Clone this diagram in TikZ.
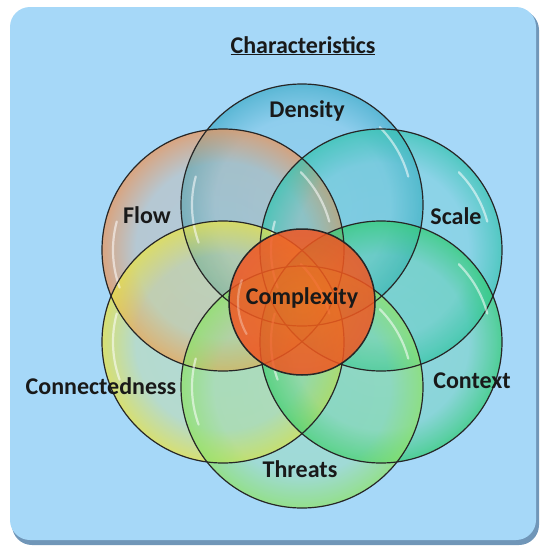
\documentclass[tikz,border=0pt]{standalone}
\usepackage{fontspec}
\setmainfont{Carlito}
\usetikzlibrary{fadings}

\definecolor{panelblue}{HTML}{A6D8F8}
\definecolor{paneledge}{HTML}{7096B8}
\definecolor{densityc}{HTML}{45AECB}
\definecolor{flowc}{HTML}{E8965E}
\definecolor{scalec}{HTML}{38C4B2}
\definecolor{connc}{HTML}{E6E24A}
\definecolor{contextc}{HTML}{34CC78}
\definecolor{threatsc}{HTML}{8EE26A}
\definecolor{complexc}{HTML}{F05522}

% glassy rim: clear middle, coloured edge
\pgfdeclareradialshading{rimshade}{\pgfpointorigin}{color(0bp)=(transparent!82); color(18bp)=(transparent!76); color(23.5bp)=(transparent!35); color(25bp)=(transparent!22); color(50bp)=(transparent!22)}
\pgfdeclarefading{rimfade}{\pgfuseshading{rimshade}}

\tikzset{
  glass/.style={fill=#1, path fading=rimfade},
  rim/.style={draw=black!85, line width=1.2pt},
  shine/.style={white, opacity=0.55, line width=2.2pt, line cap=round},
  ringtext/.style={font=\fontsize{24}{24}\selectfont\bfseries, text=black!90, inner sep=0pt, anchor=base},
}

\begin{document}
\begin{tikzpicture}[x=1pt,y=-1pt]
    \useasboundingbox (0,0) rectangle (540,546);

    % panel with its shadow
    \fill[paneledge,rounded corners=20pt] (12,10) rectangle (539,545);
    \fill[panelblue,rounded corners=20pt] (10,7) rectangle (536,540);

    % the six outer rings
    \foreach \cx/\cy/\col in {302/205/densityc, 223/250/flowc, 381/250/scalec,
                              223/342/connc, 381/342/contextc, 302/387/threatsc}
        \fill[glass=\col] (\cx,\cy) circle[radius=121];
    \foreach \cx/\cy in {302/205, 223/250, 381/250, 223/342, 381/342, 302/387} {
        \draw[shine] (\cx,\cy) ++(160:110) arc[start angle=160, end angle=195, radius=110];
        \draw[shine] (\cx,\cy) ++(-15:110) arc[start angle=-15, end angle=-45, radius=110];
        \draw[rim] (\cx,\cy) circle[radius=121];
    }

    % the core
    \shade[inner color=complexc!65!orange, outer color=complexc, opacity=0.85] (302,302) circle[radius=73];
    \draw[shine, opacity=0.3] (302,302) ++(150:64) arc[start angle=150, end angle=200, radius=64];
    \draw[rim, line width=1.5pt] (302,302) circle[radius=73];

    \node[ringtext] (title) at (303,53) {\underline{Characteristics}};
    \node[ringtext] (density) at (307,117) {Density};
    \node[ringtext] (flow) at (147,223) {Flow};
    \node[ringtext] (scale) at (456,224) {Scale};
    \node[ringtext] (complexity) at (302,304) {Complexity};
    \node[ringtext] (connectedness) at (101,394) {Connectedness};
    \node[ringtext] (context) at (472,388) {Context};
    \node[ringtext] (threats) at (300,477) {Threats};
\end{tikzpicture}
\end{document}
